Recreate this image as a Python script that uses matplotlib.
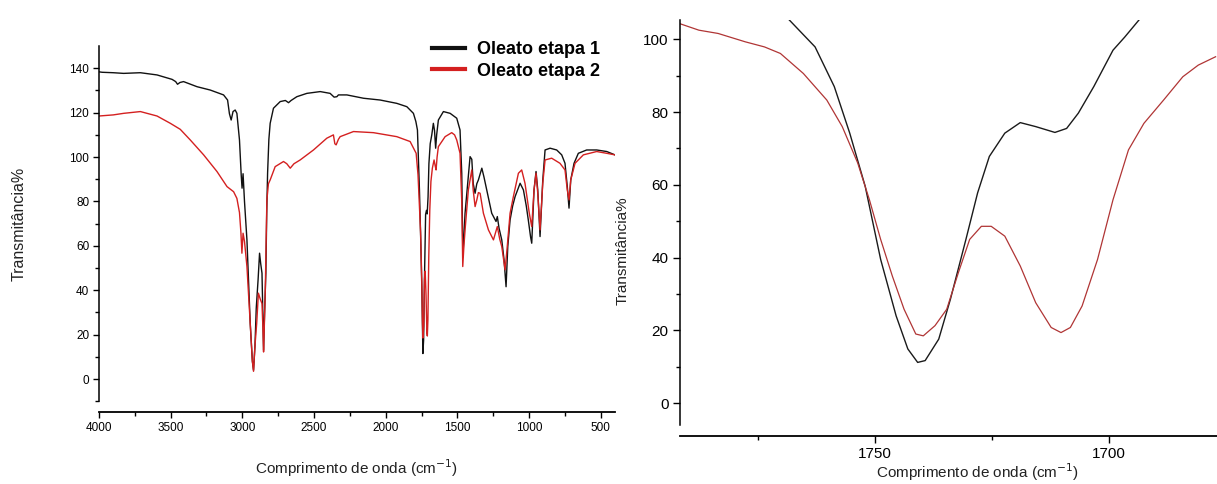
import matplotlib
matplotlib.use("Agg")
import matplotlib.pyplot as plt
import numpy as np

plt.rcParams['font.family'] = ['Liberation Sans', 'DejaVu Sans']

# full spectrum, oleato etapa 1 (black)
wn_black = [4000, 3978, 3900, 3828, 3711, 3595, 3490, 3465, 3452, 3435, 3410, 3316, 3224, 3131, 3103,
            3090, 3078, 3065, 3050, 3038, 3020, 3008, 3002, 2995, 2985, 2968, 2945, 2930, 2922, 2912,
            2903, 2890, 2880, 2872, 2863, 2856, 2852, 2845, 2836, 2830, 2824, 2815, 2806, 2783, 2736,
            2700, 2678, 2660, 2620, 2550, 2457, 2388, 2360, 2341, 2330, 2271, 2155, 2039, 1923, 1853,
            1807, 1790, 1779, 1765, 1755, 1748, 1741, 1736, 1730, 1722, 1716, 1711, 1705, 1699, 1690,
            1679, 1668, 1660, 1652, 1645, 1633, 1598, 1551, 1505, 1482, 1470, 1462, 1447, 1424, 1412,
            1400, 1390, 1377, 1365, 1354, 1330, 1315, 1296, 1261, 1231, 1222, 1210, 1191, 1175, 1161,
            1149, 1133, 1115, 1098, 1063, 1040, 1020, 1006, 990, 982, 966, 952, 940, 924, 905,
            889, 854, 808, 773, 750, 734, 722, 710, 687, 657, 599, 529, 459, 402]
t_black = [138.4, 138.2, 138.0, 137.7, 138.0, 137.0, 135.0, 134.0, 132.8, 133.6, 134.0, 131.7, 130.2, 128.0, 125.7,
           119.5, 116.7, 120.5, 121.2, 119.7, 107.7, 92.0, 86.0, 92.5, 80.0, 62.7, 25.0, 8.0, 4.0, 15.0,
           32.0, 45.0, 56.7, 52.0, 47.7, 25.0, 13.0, 30.0, 47.7, 75.0, 92.7, 108.0, 115.2, 122.0, 125.0,
           125.5, 124.5, 125.5, 127.2, 128.7, 129.5, 128.7, 127.0, 127.2, 128.0, 128.0, 126.5, 125.7, 124.2, 122.7,
           119.7, 116.0, 112.2, 85.2, 60.0, 40.0, 11.5, 17.6, 45.0, 74.2, 76.0, 74.4, 82.0, 97.0, 106.0,
           110.0, 115.2, 112.0, 104.0, 110.0, 116.7, 120.5, 119.7, 117.5, 112.2, 92.7, 55.0, 74.7, 91.2, 100.2,
           99.0, 88.0, 83.7, 88.0, 89.7, 95.0, 91.0, 85.2, 74.7, 71.0, 73.2, 68.0, 62.7, 53.7, 41.6,
           59.7, 71.7, 78.0, 82.2, 88.2, 85.2, 78.0, 71.7, 64.0, 61.2, 85.2, 93.5, 85.2, 64.2, 89.7,
           103.2, 104.0, 103.2, 101.0, 97.2, 86.7, 77.0, 89.7, 97.2, 101.7, 103.2, 103.2, 102.5, 101.0]

# full spectrum, oleato etapa 2 (red)
wn_red = [4000, 3900, 3828, 3711, 3595, 3502, 3433, 3363, 3270, 3177, 3107, 3061, 3038, 3020, 3010,
          3003, 2995, 2985, 2968, 2945, 2930, 2922, 2912, 2900, 2888, 2875, 2863, 2856, 2852, 2845,
          2840, 2829, 2818, 2806, 2771, 2713, 2690, 2666, 2640, 2597, 2504, 2411, 2365, 2355, 2346,
          2330, 2318, 2225, 2086, 1923, 1830, 1788, 1775, 1765, 1757, 1749, 1744, 1741, 1735, 1730,
          1725, 1719, 1713, 1710, 1706, 1700, 1693, 1685, 1675, 1663, 1655, 1649, 1642, 1633, 1586,
          1540, 1520, 1505, 1482, 1470, 1463, 1455, 1445, 1424, 1400, 1390, 1377, 1365, 1354, 1342,
          1319, 1284, 1249, 1222, 1205, 1191, 1168, 1155, 1133, 1110, 1075, 1052, 1029, 999, 982,
          966, 952, 940, 924, 905, 889, 843, 785, 750, 734, 722, 710, 680, 622, 529, 459, 402]
t_red = [118.5, 119.0, 119.7, 120.5, 118.5, 115.2, 112.5, 107.7, 101.0, 93.5, 86.7, 84.4, 81.4, 75.0, 66.0,
         56.7, 65.7, 62.0, 50.7, 25.0, 8.0, 3.5, 15.0, 25.0, 38.7, 36.0, 34.0, 22.0, 12.2, 28.0,
         40.0, 80.7, 88.0, 89.7, 95.7, 98.0, 97.0, 95.0, 97.0, 98.7, 103.2, 108.5, 110.0, 106.0, 105.5,
         108.0, 109.2, 111.5, 111.0, 109.2, 107.0, 101.7, 92.0, 77.7, 66.0, 45.0, 25.8, 18.5, 24.0, 45.0,
         48.6, 37.7, 20.8, 19.4, 26.7, 55.0, 76.0, 89.0, 95.0, 98.7, 96.0, 94.2, 100.0, 104.7, 109.2,
         111.0, 110.0, 107.7, 101.7, 80.0, 50.7, 60.0, 68.7, 85.2, 94.2, 85.0, 77.7, 80.7, 84.0, 83.7,
         74.7, 67.2, 62.7, 68.7, 63.0, 59.7, 49.2, 58.0, 74.7, 82.2, 92.7, 94.2, 88.2, 74.7, 68.7,
         85.2, 92.7, 83.7, 67.2, 88.2, 98.7, 99.5, 97.2, 94.2, 85.2, 80.7, 89.7, 97.2, 101.0, 102.5, 101.7, 101.0]

# carbonyl region detail
zwn_black = [1768.6, 1762.8, 1758.7, 1755.4, 1752.1, 1748.8, 1745.5, 1743.0, 1740.9, 1739.3, 1736.4,
             1733.9, 1730.6, 1728.1, 1725.6, 1722.3, 1719.0, 1715.7, 1711.6, 1709.1, 1706.6, 1703.3,
             1699.2, 1696.7, 1693.4]
zt_black = [105.7, 97.9, 87.0, 74.2, 59.6, 39.5, 24.0, 14.9, 11.2, 11.7, 17.6,
            28.6, 45.0, 57.8, 67.8, 74.2, 77.1, 76.0, 74.4, 75.5, 79.7, 87.0,
            97.0, 100.6, 105.7]
zwn_red = [1791.7, 1787.6, 1783.5, 1777.7, 1773.6, 1770.2, 1765.3, 1760.3, 1757.0, 1753.7, 1751.2,
           1748.8, 1746.3, 1743.8, 1741.3, 1739.7, 1737.2, 1734.7, 1732.2, 1729.8, 1727.3, 1725.2,
           1722.3, 1719.0, 1715.7, 1712.4, 1710.3, 1708.3, 1705.8, 1702.5, 1699.2, 1695.9, 1692.6,
           1688.4, 1684.3, 1681.0, 1677.3]
zt_red = [104.3, 102.5, 101.6, 99.3, 97.9, 96.1, 90.6, 83.3, 76.0, 66.0, 55.9,
          45.0, 34.9, 25.8, 19.0, 18.5, 21.3, 25.8, 35.9, 45.0, 48.6, 48.6,
          45.9, 37.7, 27.6, 20.8, 19.4, 20.8, 26.7, 39.5, 55.9, 69.6, 76.9,
          83.3, 89.7, 92.9, 95.2]

fig = plt.figure(figsize=(12.17, 4.84), dpi=100)
ax1 = fig.add_axes([0.0813, 0.1709, 0.4242, 0.7339])
ax2 = fig.add_axes([0.5585, 0.1219, 0.4415, 0.8368])

ax1.plot(wn_black, t_black, color='#111111', lw=1.0, label='Oleato etapa 1')
ax1.plot(wn_red, t_red, color='#d42020', lw=1.0, label='Oleato etapa 2')
ax1.set_xlim(4000, 400)
ax1.set_ylim(-10, 150)
ax1.set_xticks(np.arange(4000, 499, -500))
ax1.set_xticks(np.arange(3750, 700, -500), minor=True)
ax1.set_yticks(np.arange(0, 141, 20))
ax1.set_yticks(np.arange(-10, 140, 20), minor=True)
ax1.tick_params(labelsize=8.5, length=4, width=1, pad=3)
ax1.tick_params(which='minor', length=3, width=1)
ax1.set_xlabel('Comprimento de onda (cm$^{-1}$)', fontsize=11, color='#222222')
ax1.set_ylabel('Transmitância%', fontsize=11.5, color='#222222')
ax1.xaxis.set_label_coords(0.498, -0.157)
ax1.yaxis.set_label_coords(-0.14, 0.5)

leg = ax1.legend(loc='upper left', bbox_to_anchor=(0.355, 0.915), bbox_transform=fig.transFigure,
                 frameon=False, borderpad=0, borderaxespad=0, handlelength=1.8, handletextpad=0.7,
                 labelspacing=0.25, prop={'weight': 'bold', 'size': 13})
for h in leg.get_lines():
    h.set_linewidth(3)

ax2.plot(zwn_black, zt_black, color='#1a1a1a', lw=1.0)
ax2.plot(zwn_red, zt_red, color='#b03535', lw=0.9)
ax2.set_xlim(1791.7, 1677)
ax2.set_ylim(-6, 105.3)
ax2.set_xticks([1750, 1700])
ax2.set_xticks([1775, 1725], minor=True)
ax2.set_yticks(np.arange(0, 101, 20))
ax2.set_yticks(np.arange(10, 100, 20), minor=True)
ax2.tick_params(labelsize=11, length=5, width=1, pad=3)
ax2.tick_params(which='minor', length=3, width=1)
ax2.set_xlabel('Comprimento de onda (cm$^{-1}$)', fontsize=11, color='#222222')
ax2.set_ylabel('Transmitância%', fontsize=11, color='#222222')
ax2.xaxis.set_label_coords(0.554, -0.089)
ax2.yaxis.set_label_coords(-0.094, 0.43)

for ax in (ax1, ax2):
    ax.spines['top'].set_visible(False)
    ax.spines['right'].set_visible(False)
    ax.spines['bottom'].set_position(('outward', 8))
    ax.spines['left'].set_linewidth(1.1)
    ax.spines['bottom'].set_linewidth(1.3)

fig.savefig('out.png', dpi=100)
